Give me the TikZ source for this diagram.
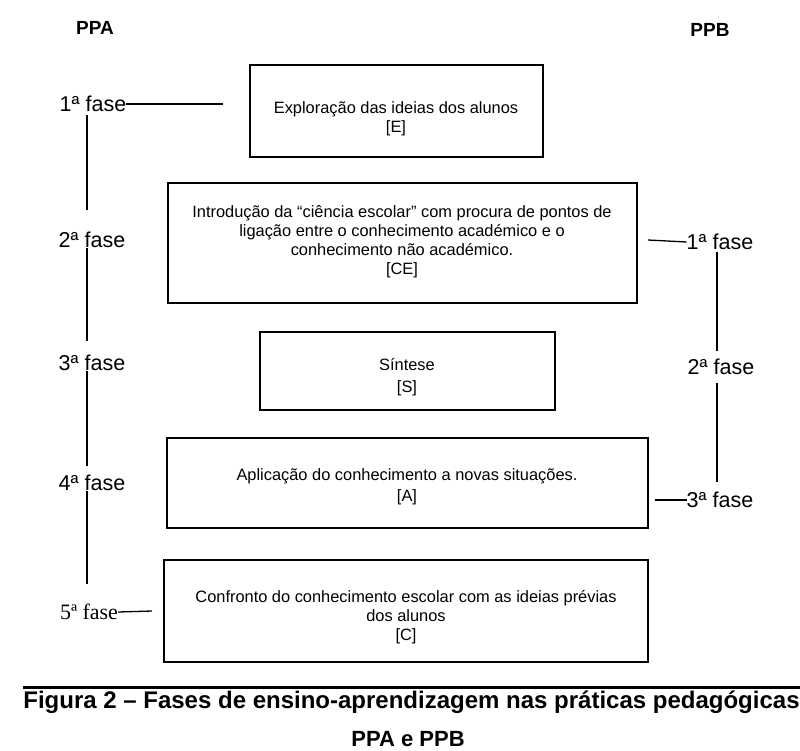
\documentclass[tikz,border=0pt]{standalone}
\usepackage{fontspec}
\setmainfont{Liberation Sans}
\newfontfamily\serifb{Liberation Serif}
\begin{document}
\begin{tikzpicture}[x=1pt,y=-1pt,
  box/.style={draw,line width=1.6pt,inner sep=0pt},
  btext/.style={inner sep=0pt,align=center,font=\fontsize{16.4}{19}\selectfont},
  fase/.style={font=\fontsize{21.5}{24}\selectfont,inner sep=0pt},
  ln/.style={line width=1.3pt},
  hd/.style={font=\bfseries\fontsize{19}{22}\selectfont}]
\useasboundingbox (0,0) rectangle (800,751);
% headings
\node[hd] (ppa) at (95,28) {PPA};
\node[hd] (ppb) at (710,30) {PPB};
% boxes
\node[box,minimum width=293,minimum height=92] (bE) at (396.5,111) {};
\node[btext,font=\fontsize{16.4}{18.5}\selectfont] (tE) at (396,119)
  {Exploração das ideias dos alunos\\{}[E]};
\node[box,minimum width=469,minimum height=120] (bCE) at (402.5,243) {};
\node[btext] (tCE) at (402,242)
  {Introdução da “ciência escolar” com procura de pontos de\\
   ligação entre o conhecimento académico e o\\
   conhecimento não académico.\\{}[CE]};
\node[box,minimum width=295,minimum height=78] (bS) at (407.5,371) {};
\node[btext,font=\fontsize{16.4}{22}\selectfont] (tS) at (407,377)
  {Síntese\\{}[S]};
\node[box,minimum width=481,minimum height=90] (bA) at (407.5,483) {};
\node[btext,font=\fontsize{16.4}{21}\selectfont] (tA) at (407,487)
  {Aplicação do conhecimento a novas situações.\\{}[A]};
\node[box,minimum width=484,minimum height=102] (bC) at (406,611) {};
\node[btext] (tC) at (406,617)
  {Confronto do conhecimento escolar com as ideias prévias\\dos alunos\\{}[C]};
% left phases
\coordinate (vx) at (87,0);
\node[fase] (l1) at (93,104) {1ª fase};
\node[fase] (l2) at (92,240) {2ª fase};
\node[fase] (l3) at (92,363) {3ª fase};
\node[fase] (l4) at (92,483) {4ª fase};
\node[font=\serifb\fontsize{22}{24}\selectfont,inner sep=0pt] (l5) at (89,612) {5ª fase};
\draw[ln,shorten <=3pt] (l1.south -| vx) -- (l2.north -| vx) [shorten >=22pt];
\draw[ln] (l2.south -| vx) -- (l3.north -| vx) [shorten >=14pt];
\draw[ln] (l3.south -| vx) -- (l4.north -| vx) [shorten >=9pt];
\draw[ln] (l4.south -| vx) -- (l5.north -| vx) [shorten >=20pt];
\coordinate (c1) at (223,104);
\coordinate (c5) at (152,611);
\draw[ln] (l1.east) -- (c1);
\draw[ln] (l5.east) -- (c5);
% right phases
\coordinate (vr) at (717,0);
\node[fase] (r1) at (720,242) {1ª fase};
\node[fase] (r2) at (721,367) {2ª fase};
\node[fase] (r3) at (720,500) {3ª fase};
\draw[ln,shorten <=2pt,shorten >=8pt] (r1.south -| vr) -- (r2.north -| vr);
\draw[ln,shorten <=8pt,shorten >=10pt] (r2.south -| vr) -- (r3.north -| vr);
\coordinate (c2) at (648,240);
\coordinate (c3) at (655,500);
\draw[ln] (r1.west) -- (c2);
\draw[ln] (r3.west) -- (c3);
% caption
\draw[line width=3pt] (23,687) -- (800,687);
\node[font=\bfseries\fontsize{24}{28}\selectfont,anchor=base,inner sep=0pt] (cap) at (411.5,708)
  {Figura 2 – Fases de ensino-aprendizagem nas práticas pedagógicas};
\node[font=\bfseries\fontsize{22}{26}\selectfont,anchor=base,inner sep=0pt] (cap2) at (408,746)
  {PPA e PPB};
\end{tikzpicture}
\end{document}
